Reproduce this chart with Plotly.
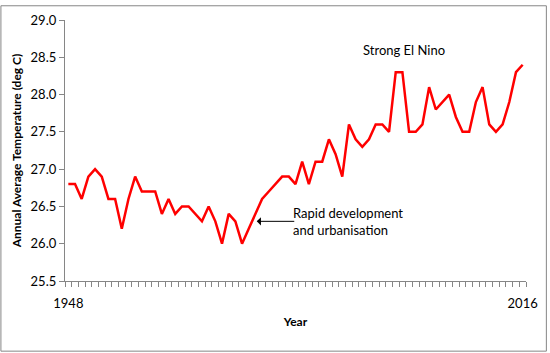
import plotly.graph_objects as go

years = list(range(1948, 2017))
temps = [26.8, 26.8, 26.6, 26.9, 27.0, 26.9, 26.6, 26.6, 26.2, 26.6,
         26.9, 26.7, 26.7, 26.7, 26.4, 26.6, 26.4, 26.5, 26.5, 26.4,
         26.3, 26.5, 26.3, 26.0, 26.4, 26.3, 26.0, 26.2, 26.4, 26.6,
         26.7, 26.8, 26.9, 26.9, 26.8, 27.1, 26.8, 27.1, 27.1, 27.4,
         27.2, 26.9, 27.6, 27.4, 27.3, 27.4, 27.6, 27.6, 27.5, 28.3,
         28.3, 27.5, 27.5, 27.6, 28.1, 27.8, 27.9, 28.0, 27.7, 27.5,
         27.5, 27.9, 28.1, 27.6, 27.5, 27.6, 27.9, 28.3, 28.4]
x_labels = [1948, 2016]
y_ticks = [25.5, 26.0, 26.5, 27.0, 27.5, 28.0, 28.5, 29.0]

FONT = "Lato"
AXIS = "#868686"

fig = go.Figure()
fig.add_trace(go.Scatter(x=years, y=temps, mode="lines",
                         line=dict(color="#FF0000", width=2.5),
                         showlegend=False, hoverinfo="skip"))

fig.update_layout(
    width=550, height=353,
    margin=dict(l=65, r=21, t=15, b=72),
    paper_bgcolor="white", plot_bgcolor="white",
    font=dict(family=FONT, size=13, color="#000000"),
    xaxis=dict(
        range=[1947.5, 2016.5], tickmode="array", tickvals=x_labels,
        ticktext=[str(v) for v in x_labels], ticks="outside", ticklen=10,
        tickcolor="rgba(0,0,0,0)",
        showline=True, linecolor=AXIS, linewidth=1.3, showgrid=False, zeroline=False,
        minor=dict(ticks="outside", tick0=1947.5, dtick=1, ticklen=5,
                   tickcolor=AXIS, tickwidth=1, showgrid=False),
        tickfont=dict(size=13),
        title=dict(text="<b>Year</b>", font=dict(size=12), standoff=7),
    ),
    yaxis=dict(
        range=[25.5, 29.0], tickmode="array", tickvals=y_ticks,
        ticktext=[f"{v:.1f}" for v in y_ticks], ticks="outside", ticklen=5,
        tickcolor=AXIS, showline=True, linecolor=AXIS, linewidth=1.3,
        showgrid=False, zeroline=False, tickfont=dict(size=13),
        title=dict(text="<b>Annual Average Temperature (deg C)</b>",
                   font=dict(size=12), standoff=6),
    ),
    annotations=[
        dict(x=1991.8, y=28.6, xref="x", yref="y", text="Strong El Nino",
             showarrow=False, xanchor="left", yanchor="middle",
             font=dict(size=13)),
        dict(x=1981.4, y=26.3, xref="x", yref="y",
             text="Rapid development<br>and urbanisation",
             showarrow=False, xanchor="left", yanchor="middle", align="left",
             font=dict(size=13)),
        dict(x=1976.2, y=26.3, xref="x", yref="y", ax=39, ay=0,
             text="", showarrow=True, arrowhead=1, arrowsize=1.4,
             arrowwidth=1, arrowcolor="#000000"),
    ],
    shapes=[dict(type="rect", xref="paper", yref="paper",
                 x0=-64.5 / 464, x1=1 + 20.5 / 464,
                 y0=-71.5 / 266, y1=1 + 14.5 / 266,
                 line=dict(color=AXIS, width=1))],
)

fig.write_html("out.html")
